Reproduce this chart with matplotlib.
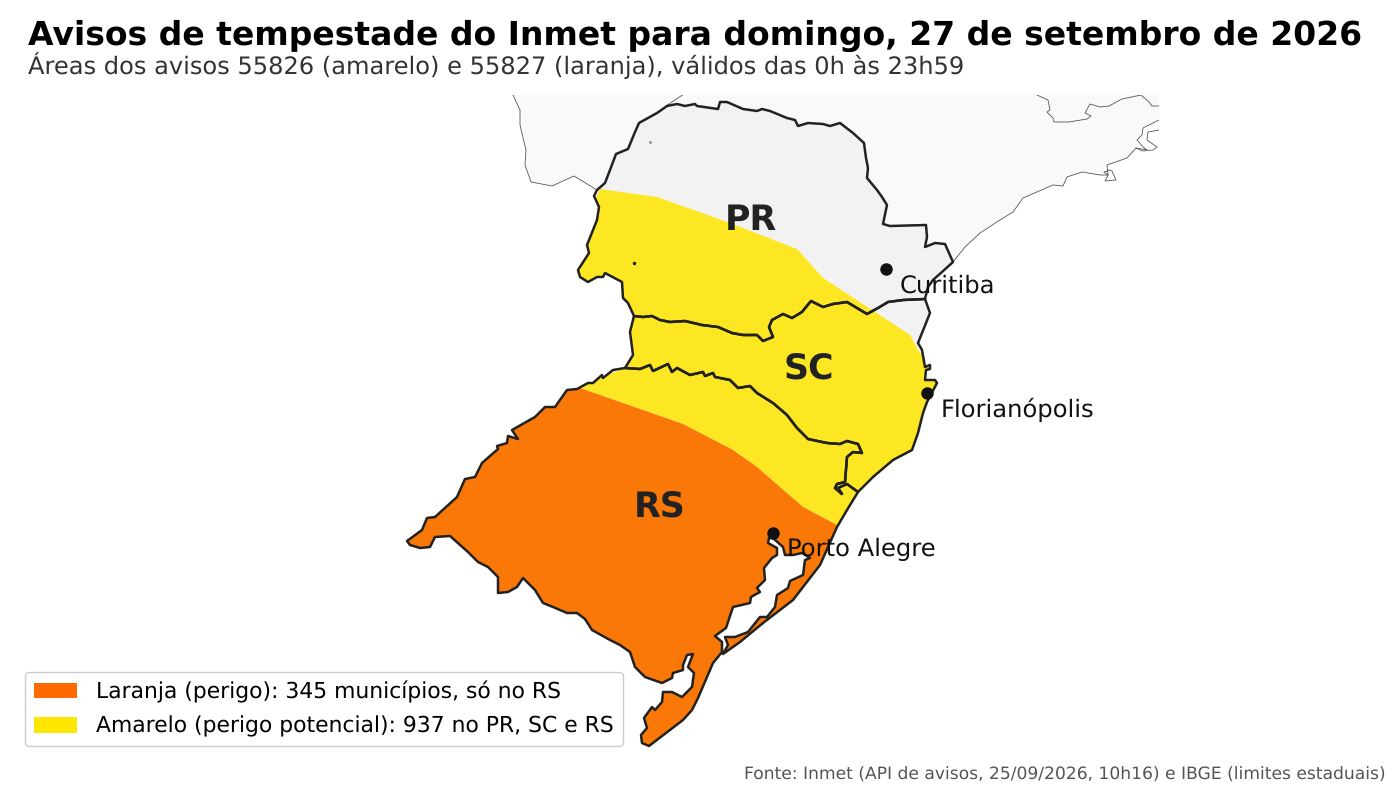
import matplotlib
matplotlib.use("Agg")
import matplotlib.pyplot as plt
from matplotlib.patches import Patch, Polygon
from matplotlib.path import Path

plt.rcParams["text.hinting"] = "no_hinting"
plt.rcParams["text.hinting_factor"] = 8

PR = [(597,190),(605,183),(610,170),(616,154),(628,149),(635,132),(639,123),(657,113),(667,106),(677,104),(685,106),(695,104),(697,106),(718,109),(720,102),(727,102),(743,109),(757,111),(762,109),(770,111),(787,118),(795,120),(798,126),(808,123),(823,124),(830,126),(840,123),(853,133),(864,143),(866,158),(868,168),(867,178),(877,190),(882,197),(887,205),(883,224),(890,226),(926,225),(927,237),(925,247),(935,243),(945,244),(953,262),(942,272),(933,280),(928,287),(925,299),(903,300),(888,302),(878,308),(867,314),(857,308),(847,302),(833,304),(823,307),(811,301),(802,312),(792,318),(783,314),(772,320),(769,327),(773,337),(763,341),(757,335),(743,335),(732,333),(718,327),(702,325),(685,321),(670,322),(660,320),(652,316),(643,317),(634,316),(628,303),(623,298),(622,282),(605,273),(603,277),(597,277),(588,282),(580,277),(578,270),(589,253),(587,245),(597,220),(599,207),(594,196)]
SC = [(634,316),(630,332),(633,355),(625,368),(640,369),(650,365),(653,371),(668,364),(672,372),(677,368),(690,375),(703,372),(705,376),(713,373),(715,377),(730,380),(738,388),(750,386),(757,393),(773,403),(787,415),(797,428),(808,439),(827,443),(840,444),(847,441),(858,444),(862,453),(853,452),(847,457),(845,482),(837,484),(835,488),(842,494),(838,488),(847,484),(858,492),(873,477),(893,460),(912,450),(918,433),(923,413),(927,402),(937,383),(935,380),(925,380),(926,370),(930,369),(930,365),(925,367),(922,350),(918,343),(930,313),(925,299),(903,300),(888,302),(878,308),(867,314),(857,308),(847,302),(833,304),(823,307),(811,301),(802,312),(792,318),(783,314),(772,320),(769,327),(773,337),(763,341),(757,335),(743,335),(732,333),(718,327),(702,325),(685,321),(670,322),(660,320),(652,316),(643,317)]
RS = [(625,368),(613,370),(603,378),(602,375),(593,383),(588,383),(577,389),(567,390),(555,407),(545,407),(535,417),(512,430),(518,439),(508,436),(507,443),(497,446),(498,449),(482,463),(475,477),(465,479),(457,497),(435,517),(427,518),(422,530),(407,541),(410,545),(420,548),(430,547),(435,537),(450,536),(468,552),(478,562),(488,567),(498,577),(498,593),(508,592),(517,587),(523,578),(535,590),(543,603),(553,607),(567,613),(577,613),(585,619),(592,630),(610,640),(620,645),(630,652),(635,667),(645,677),(662,683),(672,678),(673,673),(683,670),(683,665),(687,655),(693,654),(688,667),(694,673),(692,687),(682,697),(672,692),(663,692),(662,702),(655,710),(652,707),(644,718),(647,728),(641,735),(642,743),(649,746),(683,720),(692,710),(698,698),(707,677),(713,663),(722,652),(722,642),(715,636),(726,628),(733,607),(750,603),(751,597),(760,592),(757,588),(765,580),(764,568),(772,558),(777,555),(777,548),(768,543),(769,538),(773,538),(783,547),(785,555),(793,555),(802,553),(810,558),(805,560),(803,575),(790,581),(788,588),(777,595),(775,607),(767,617),(760,617),(748,632),(735,637),(725,637),(728,645),(723,654),(740,642),(763,623),(793,600),(820,565),(837,527),(847,510),(858,492),(847,484),(838,488),(842,494),(835,488),(837,484),(845,482),(847,457),(853,452),(862,453),(858,444),(847,441),(840,444),(827,443),(808,439),(797,428),(787,415),(773,403),(757,393),(750,386),(738,388),(730,380),(715,377),(713,373),(705,376),(703,372),(690,375),(677,368),(672,372),(668,364),(653,371),(650,365),(640,369)]

NEIGHBOUR_AREA = [(513,95),(520,110),(520,125),(526,150),(525,165),(531,182),(552,186),(574,176),(597,190),(953,262),(965,247),(980,233),(1000,220),(1013,212),(1023,198),(1053,185),(1063,186),(1067,177),(1082,172),(1100,175),(1108,175),(1107,165),(1127,158),(1136,148),(1137,140),(1142,135),(1143,128),(1159,120),(1159,95)]
BORDER_WEST = [(513,95),(520,110),(520,125),(526,150),(525,165),(531,182),(552,186),(574,176),(597,190)]
BORDER_NORTH = [(666,106),(681,96),(684,94)]
BORDER_EAST = [(1037,95),(1048,100),(1050,110),(1047,112),(1053,118),(1054,122),(1069,122),(1075,121),(1087,119),(1091,116),(1085,113),(1090,104),(1100,107),(1109,106),(1122,99),(1141,95),(1149,102),(1152,106),(1159,106)]
COAST_EAST = [(953,262),(965,247),(980,233),(1000,220),(1013,212),(1023,198),(1053,185),(1063,186),(1067,177),(1082,172),(1100,175),(1108,175),(1107,165),(1127,158),(1136,148),(1147,150),(1143,147),(1137,140),(1142,135),(1143,128),(1159,120)]
ISLAND_A = [(1159,130),(1148,132),(1147,140),(1157,147),(1153,150),(1143,151),(1136,148)]
ISLAND_B = [(1108,175),(1105,181),(1116,180),(1112,171),(1110,170),(1104,172),(1108,175)]

YELLOW_AREA = [(600,189),(657,197),(730,223),(797,249),(823,278),(872,310),(910,335),(918,350),(960,400),(900,500),(858,492),(837,525),(803,507),(757,467),(733,450),(683,424),(580,388),(600,378),(620,370),(628,365),(560,280)]
ORANGE_AREA = [(580,388),(683,424),(733,450),(757,467),(803,507),(837,525),(870,540),(680,770),(390,560),(540,380)]

CITY_NAMES = ["Curitiba", "Florianópolis", "Porto Alegre"]
CITY_X = [886, 927, 773]
CITY_Y = [269, 393, 533]
STATE_NAMES = ["PR", "SC", "RS"]
STATE_X = [751, 809, 660]
STATE_Y = [220, 370, 508]
SPECK_GREY = (650, 142)
SPECK_DARK = (634, 263)

TITLE = "Avisos de tempestade do Inmet para domingo, 27 de setembro de 2026"
SUBTITLE = "Áreas dos avisos 55826 (amarelo) e 55827 (laranja), válidos das 0h às 23h59"
SOURCE = "Fonte: Inmet (API de avisos, 25/09/2026, 10h16) e IBGE (limites estaduais)"
LEGEND_LABELS = ["Laranja (perigo): 345 municípios, só no RS",
                 "Amarelo (perigo potencial): 937 no PR, SC e RS"]

W, H = 1400, 788
fig = plt.figure(figsize=(W/100, H/100), dpi=100, facecolor="white")
ax = fig.add_axes([400/W, 1-750/H, 759/W, 655/H])
ax.set_xlim(400, 1159)
ax.set_ylim(750, 95)
ax.axis("off")

ax.add_patch(Polygon(NEIGHBOUR_AREA, closed=True, fc="#f9f9f9", ec="none", zorder=1))
for line in (BORDER_WEST, BORDER_NORTH, BORDER_EAST, COAST_EAST, ISLAND_A, ISLAND_B):
    xs, ys = zip(*line)
    ax.plot(xs, ys, color="#555555", lw=0.6, zorder=2)

state_fill = "#f2f2f2"
for poly in (PR, SC, RS):
    ax.add_patch(Polygon(poly, closed=True, fc=state_fill, ec="none", zorder=3))

verts, codes = [], []
for poly in (PR, SC, RS):
    verts += poly + [poly[0]]
    codes += [Path.MOVETO] + [Path.LINETO]*(len(poly)-1) + [Path.CLOSEPOLY]
land = Path(verts, codes)

yellow = Polygon(YELLOW_AREA, closed=True, fc="#fde622", ec="none", zorder=4)
orange = Polygon(ORANGE_AREA, closed=True, fc="#fa7807", ec="none", zorder=5)
for p in (yellow, orange):
    ax.add_patch(p)
    p.set_clip_path(land, transform=ax.transData)

for poly in (PR, SC, RS):
    ax.add_patch(Polygon(poly, closed=True, fc="none", ec="#222222", lw=1.8,
                         joinstyle="round", zorder=6))
ax.plot(*SPECK_GREY, marker="o", ms=1, color="#888888", zorder=6)
ax.plot(*SPECK_DARK, marker="o", ms=1.5, color="#222222", zorder=6)

ax.plot(CITY_X, CITY_Y, "o", color="#111111", ms=9, mec="none", zorder=7, clip_on=False)
for name, x, y in zip(CITY_NAMES, CITY_X, CITY_Y):
    ax.annotate(name, (x, y), xytext=(10, -12), textcoords="offset points",
                fontsize=17.5, color="#111111", va="center", ha="left", zorder=8)
for name, x, y in zip(STATE_NAMES, STATE_X, STATE_Y):
    ax.text(x, y, name, fontsize=25, fontweight="bold", color="#222222",
            ha="center", va="center", zorder=8)

fig.text(28/W, 1-36/H, TITLE, fontsize=23.73, fontweight="bold", color="black", va="center", ha="left")
fig.text(28/W, 1-66/H, SUBTITLE, fontsize=17.4, color="#333333", va="center", ha="left")
fig.text(1386/W, 1-775/H, SOURCE, fontsize=12.3, color="#555555", va="center", ha="right")

handles = [Patch(fc="#ff6a00", ec="none"), Patch(fc="#ffe600", ec="none")]
leg = fig.legend(handles, LEGEND_LABELS, loc="lower left", bbox_to_anchor=(25/W, 1-746/H),
                 borderaxespad=0, fontsize=15.74, frameon=True, fancybox=True, framealpha=1,
                 edgecolor="#cccccc", labelspacing=0.6, handletextpad=0.85)
leg.set_zorder(10)

fig.savefig("out.png", dpi=100, facecolor="white")
